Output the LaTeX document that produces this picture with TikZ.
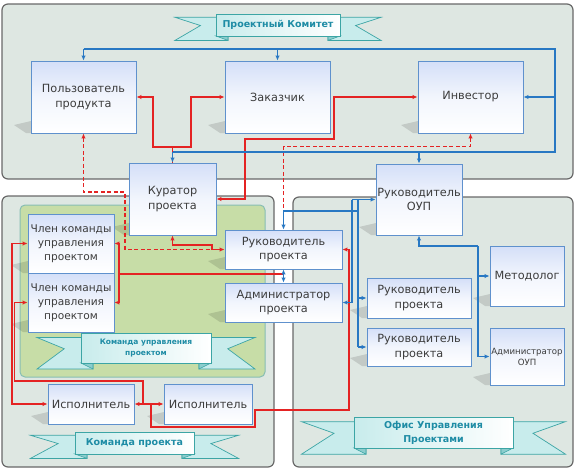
\documentclass[tikz,border=0pt]{standalone}
\usepackage{fontspec}
\setmainfont{DejaVu Sans}
\usetikzlibrary{arrows.meta,calc}
\definecolor{panelfill}{RGB}{222,231,226}
\definecolor{panelborder}{RGB}{105,105,105}
\definecolor{greenfill}{RGB}{199,221,167}
\definecolor{greenborder}{RGB}{135,190,180}
\definecolor{boxborder}{RGB}{95,145,205}
\definecolor{boxtop}{RGB}{212,223,248}
\definecolor{bluec}{RGB}{40,120,195}
\definecolor{redc}{RGB}{228,35,35}
\definecolor{ribc}{RGB}{200,236,236}
\definecolor{ribfoldc}{RGB}{140,205,205}
\definecolor{ribborder}{RGB}{60,165,165}
\definecolor{ribtext}{RGB}{30,140,165}
\definecolor{textc}{RGB}{60,60,60}
% box: name, cx, cy, w, h, font size, baselineskip, text
\newcommand{\bx}[8]{%
  \fill[black,opacity=0.12] ({#2-#4/2},{#3+#5/2-12}) -- ({#2-#4/2-17},{#3+#5/2-8}) -- ({#2-#4/2-5},{#3+#5/2}) -- ({#2-#4/2},{#3+#5/2}) -- cycle;
  \node[boxnode, minimum width=#4pt, minimum height=#5pt, font=\fontsize{#6}{#7}\selectfont] (#1) at (#2,#3) {#8};}
% ribbon: name, cx, y1, y2, hw, tip, font, text
\newcommand{\ribbon}[8]{%
  \fill[ribc, draw=ribborder, line width=0.7pt] ({#2-#6},{#3+0.15*(#4-#3)}) -- ({#2-#5+12},{#3+0.15*(#4-#3)}) -- ({#2-#5+12},{#4+0.2*(#4-#3)}) -- ({#2-#6},{#4+0.2*(#4-#3)}) -- ({#2-#6+0.62*(#6-#5)},{(#3+#4)/2+0.025*(#4-#3)}) -- cycle;
  \fill[ribc, draw=ribborder, line width=0.7pt] ({#2+#6},{#3+0.15*(#4-#3)}) -- ({#2+#5-12},{#3+0.15*(#4-#3)}) -- ({#2+#5-12},{#4+0.2*(#4-#3)}) -- ({#2+#6},{#4+0.2*(#4-#3)}) -- ({#2+#6-0.62*(#6-#5)},{(#3+#4)/2+0.025*(#4-#3)}) -- cycle;
  \fill[ribfoldc, draw=ribborder, line width=0.6pt] ({#2-#5},{#4}) -- ({#2-#5+12},{#4+0.2*(#4-#3)}) -- ({#2-#5+12},{#4}) -- cycle;
  \fill[ribfoldc, draw=ribborder, line width=0.6pt] ({#2+#5},{#4}) -- ({#2+#5-12},{#4+0.2*(#4-#3)}) -- ({#2+#5-12},{#4}) -- cycle;
  \path[draw=ribborder, line width=0.8pt, left color=ribc, right color=white] ({#2-#5},{#3}) rectangle ({#2+#5},{#4});
  \node[text=ribtext, font=#7, align=center, inner sep=0pt] (#1) at ({#2},{(#3+#4)/2}) {#8};}
\begin{document}
\begin{tikzpicture}[x=1pt,y=-1pt,
  panel/.style={draw=panelborder, line width=1.2pt, rounded corners=6pt, fill=panelfill},
  boxnode/.style={draw=boxborder, line width=0.9pt, top color=boxtop, bottom color=white, middle color=white!70!boxtop, text=textc, align=center, inner sep=0pt},
  bl/.style={draw=bluec, line width=1.2pt},
  rd/.style={draw=redc, line width=1.2pt},
  ae/.style={-{Latex[length=5pt,width=4.5pt]}},
  as/.style={{Latex[length=5pt,width=4.5pt]}-},
  ab/.style={{Latex[length=5pt,width=4.5pt]}-{Latex[length=5pt,width=4.5pt]}},
  dsh/.style={dash pattern=on 4pt off 2.5pt}]
\useasboundingbox (0,0) rectangle (576,471);
\fill[white] (0,0) rectangle (576,471);
% panels
\draw[panel] (2,4) rectangle (573,179);
\draw[panel] (2,196) rectangle (274,467);
\draw[panel] (293,197) rectangle (573,467);
\draw[fill=greenfill, draw=greenborder, line width=1pt, rounded corners=5pt] (20,205) rectangle (265,377);
% ribbons
\ribbon{rPK}{278}{14}{36}{62}{103}{\bfseries\fontsize{9.5}{12}\selectfont}{Проектный Комитет}
\ribbon{rKUP}{146}{333}{363}{65}{109}{\bfseries\fontsize{7.5}{11}\selectfont}{Команда управления\\проектом}
\ribbon{rKP}{134.5}{432}{454}{59.5}{104}{\bfseries\fontsize{9.5}{12}\selectfont}{Команда проекта}
\ribbon{rOUP}{433.5}{417}{448}{79.5}{132}{\bfseries\fontsize{9.5}{14}\selectfont}{Офис Управления\\Проектами}
% boxes
\bx{user}{83.5}{97}{105}{72}{11.3}{14.5}{Пользователь\\продукта}
\bx{cust}{277.5}{97}{105}{72}{11.3}{14.5}{Заказчик}
\bx{inv}{470.5}{97}{105}{72}{11.3}{14.5}{Инвестор}
\bx{cur}{172.5}{199}{87}{72}{11.3}{14.5}{Куратор\\проекта}
\bx{oup}{419}{199.5}{86}{71}{11.3}{14.5}{Руководитель\\ОУП}
\bx{rp}{283.5}{249.5}{117}{39}{11.3}{14.5}{Руководитель\\проекта}
\bx{ap}{283.5}{302.5}{117}{39}{11.3}{14.5}{Администратор\\проекта}
\bx{rpa}{419}{298}{104}{40}{11.3}{14.5}{Руководитель\\проекта}
\bx{rpb}{419}{347}{104}{38}{11.3}{14.5}{Руководитель\\проекта}
\bx{met}{527}{276}{74}{60}{11.3}{14.5}{Методолог}
\bx{aoup}{527}{356.5}{74}{57}{8.6}{11}{Администратор\\ОУП}
\bx{ma}{71}{243.5}{86}{59}{10.6}{14}{Член команды\\управления\\проектом}
\bx{mb}{71}{302.5}{86}{59}{10.6}{14}{Член команды\\управления\\проектом}
\bx{ea}{91}{404}{86}{40}{11.3}{14.5}{Исполнитель}
\bx{eb}{208}{404}{88}{40}{11.3}{14.5}{Исполнитель}
% red connectors (below blue)
\draw[rd] (cur.north) -- (172.5,147);
\draw[rd,ab] (user.east) -- (153,97) -- (153,147) -- (191,147) -- (191,97) -- (cust.west);
\draw[rd,ab] (cur.east) -- (245,199) -- (245,139) -- (334,139) -- (334,97) -- (inv.west);
\draw[rd,dsh,as] (user.south) -- (83.5,192) -- (125,192) -- (125,249.5) -- (212,249.5);
\draw[rd,ab] (cur.south) -- (172.5,245) -- (212,245) -- (212,249.5) -- (rp.west);
\draw[rd,dsh,as] (inv.south) -- (470.5,146.5) -- (283.5,146.5) -- (283.5,211);
\draw[rd,ab] (ma.east) -- (119,243.5) -- (119,302.5) -- (mb.east);
\draw[rd] (119,274) -- (283.5,274);
\draw[rd,ab] (ma.west) -- (12,243.5) -- (12,404) -- (ea.west);
\draw[rd,as] (mb.west) -- (14.5,302.5) -- (14.5,381) -- (143,381) -- (143,404);
\draw[rd,ab] (ea.east) -- (eb.west);
\draw[rd,as] (rp.east) -- (349,249.5) -- (349,410) -- (255,410) -- (255,427) -- (151,427) -- (151,404);
% blue connectors
\draw[bl] (83.5,49) -- (555,49) -- (555,152) -- (172.5,152);
\draw[bl,ae] (83.5,49) -- (user.north);
\draw[bl,ae] (277.5,49) -- (cust.north);
\draw[bl,ae] (555,97) -- (inv.east);
\draw[bl,ae] (419,152) -- (oup.north);
\draw[bl,ae] (172.5,152) -- (cur.north);
\draw[bl,ae] (352,199.5) -- (oup.west);
\draw[bl,ae] (352,199.5) -- (352,302.5) -- (ap.east);
\draw[bl] (358,199.5) -- (358,347);
\draw[bl,ae] (358,298) -- (rpa.west);
\draw[bl,ae] (358,347) -- (rpb.west);
\draw[bl,ae] (358,211) -- (283.5,211) -- (rp.north);
\draw[bl,ae] (478,246) -- (419,246) -- (oup.south);
\draw[bl] (478,246) -- (478,356.5);
\draw[bl,ae] (478,276) -- (met.west);
\draw[bl,ae] (478,356.5) -- (aoup.west);
\draw[bl,ab] (rp.south) -- (ap.north);
\end{tikzpicture}
\end{document}
